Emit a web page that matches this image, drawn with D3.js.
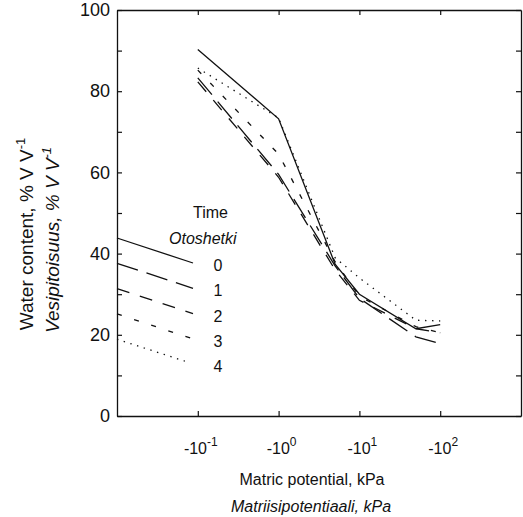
<!DOCTYPE html>
<html><head><meta charset="utf-8">
<script src="https://cdn.jsdelivr.net/npm/d3@7"></script>
<style>
body{margin:0;background:#fff}
text{font-family:"Liberation Sans",Arial,Helvetica,sans-serif;fill:#111}
</style>
</head><body>
<svg id="c" width="523" height="517"></svg>
<script>
// ---- data ----
const potentials = [0.1, 1, 5, 10, 50, 100];           // |matric potential|, kPa
const times = ["0", "1", "2", "3", "4"];
const time0 = [90.3, 73.2, 37.4, 30.0, 21.5, 22.5];
const time1 = [83.3, 59.5, 37.0, 29.0, 19.5, 17.8];
const time2 = [82.3, 58.8, 36.0, 28.5, 21.5, 20.5];
const time3 = [85.2, 64.5, 38.0, 29.5, 22.0, 20.5];
const time4 = [85.7, 73.4, 39.0, 34.0, 23.6, 23.4];
const xTickValues = [0.1, 1, 10, 100];
const xTickExponents = ["-1", "0", "1", "2"];
const yTickValues = [0, 10, 20, 30, 40, 50, 60, 70, 80, 90, 100];

const seriesValues = [time0, time1, time2, time3, time4];
const dashes = [null, "22,9", "13,11", "5,13", "1.4,5.6"];

// ---- layout ----
const svg = d3.select("#c");
const L = 117, R = 521, T = 10, B = 416;
const x = d3.scaleLog().domain([0.01, 1000]).range([L, R]);
const y = d3.scaleLinear().domain([0, 100]).range([B, T]);

const ink = "#111";

// axes
const axL = d3.axisLeft(y).tickValues(yTickValues).tickSizeInner(-5).tickSizeOuter(0).tickPadding(7)
  .tickFormat(d => d % 20 === 0 ? d : "");
const axR = d3.axisRight(y).tickValues(yTickValues).tickSizeInner(-5).tickSizeOuter(0).tickFormat("");
const axT = d3.axisTop(x).tickValues(xTickValues).tickSizeInner(-5).tickSizeOuter(0).tickFormat("");
const axB = d3.axisBottom(x).tickValues(xTickValues).tickSizeInner(-5).tickSizeOuter(0).tickFormat("");

function style(g){
  g.selectAll("path.domain").attr("stroke", ink).attr("stroke-width", 1.3);
  g.selectAll(".tick line").attr("stroke", ink).attr("stroke-width", 1.2);
}
svg.append("g").attr("transform", `translate(${L},0)`).call(axL).call(style)
  .selectAll("text").attr("font-size", 18).attr("fill", ink).attr("font-family", null);
svg.append("g").attr("transform", `translate(${R},0)`).call(axR).call(style);
svg.append("g").attr("transform", `translate(0,${T})`).call(axT).call(style);
svg.append("g").attr("transform", `translate(0,${B})`).call(axB).call(style);

// bottom tick labels with superscripts
xTickValues.forEach((v, i) => {
  const t = svg.append("text").attr("x", x(v) + 3).attr("y", 454)
    .attr("text-anchor", "middle").attr("font-size", 16);
  t.append("tspan").text("-10");
  t.append("tspan").attr("font-size", 12).attr("dy", -8).text(xTickExponents[i]);
});

// ---- lines ----
const line = d3.line().x((d, i) => x(potentials[i])).y(d => y(d));
seriesValues.forEach((vals, k) => {
  svg.append("path").datum(vals).attr("d", line)
    .attr("fill", "none").attr("stroke", ink).attr("stroke-width", 1.3)
    .attr("stroke-dasharray", dashes[k]);
});

// ---- legend ----
svg.append("text").attr("x", 193).attr("y", 218).attr("font-size", 16).text("Time");
svg.append("text").attr("x", 169).attr("y", 244).attr("font-size", 16).attr("font-style", "italic").text("Otoshetki");
const legY0 = 238, legStep = 25.3;
times.forEach((t, k) => {
  const y0 = legY0 + k * legStep;
  svg.append("line").attr("x1", L).attr("y1", y0).attr("x2", k === 4 ? 185 : 193).attr("y2", y0 + (k === 4 ? 22 : 25))
    .attr("stroke", ink).attr("stroke-width", 1.3).attr("stroke-dasharray", dashes[k]);
  svg.append("text").attr("x", 218).attr("y", y0 + 33).attr("text-anchor", "middle").attr("font-size", 16).text(t);
});

// ---- axis titles ----
svg.append("text").attr("x", 312).attr("y", 485).attr("text-anchor", "middle").attr("font-size", 16)
  .text("Matric potential, kPa");
svg.append("text").attr("x", 311).attr("y", 512).attr("text-anchor", "middle").attr("font-size", 16)
  .attr("font-style", "italic").text("Matriisipotentiaali, kPa");

const yt1 = svg.append("text").attr("transform", "translate(33,234) rotate(-90)").attr("text-anchor", "middle").attr("font-size", 19);
yt1.append("tspan").text("Water content, % V V");
yt1.append("tspan").attr("font-size", 13).attr("dy", -8).text("-1");
const yt2 = svg.append("text").attr("transform", "translate(59,240) rotate(-90)").attr("text-anchor", "middle").attr("font-size", 19)
  .attr("font-style", "italic");
yt2.append("tspan").text("Vesipitoisuus, % V V");
yt2.append("tspan").attr("font-size", 13).attr("dy", -8).text("-1");
</script>
</body></html>
